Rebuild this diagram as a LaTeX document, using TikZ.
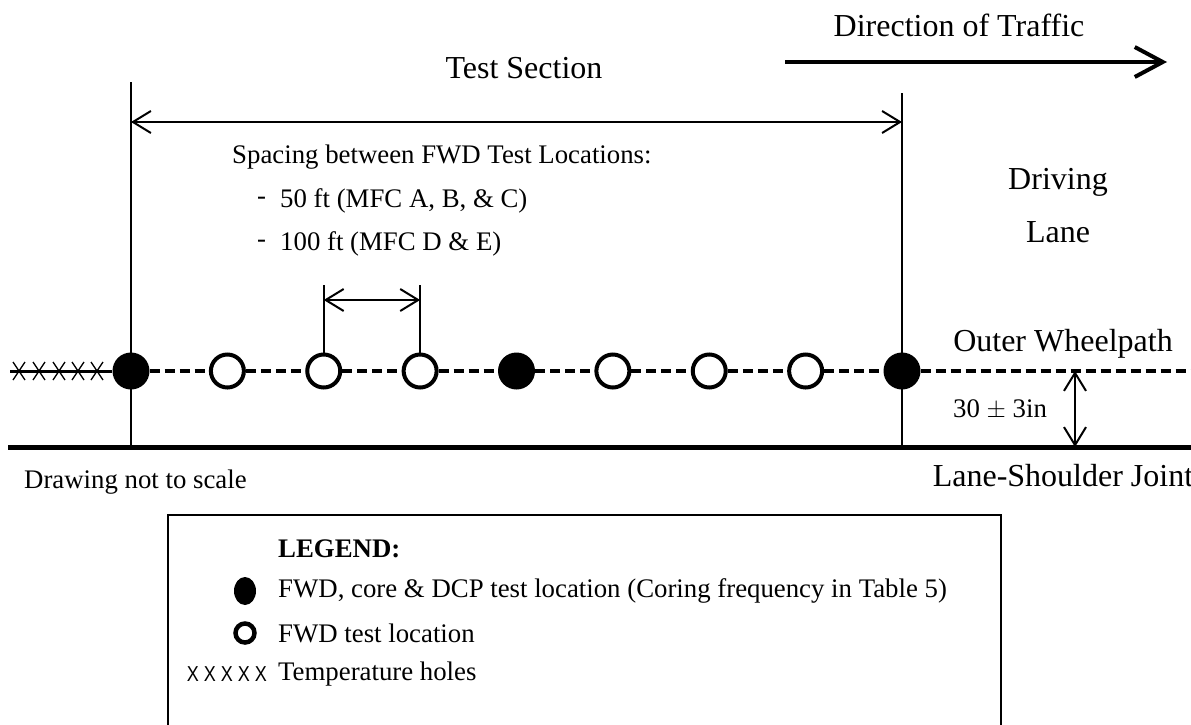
\documentclass[tikz,border=0pt]{standalone}
\usepackage{fontspec}
\setmainfont{Liberation Serif}
\newfontfamily\holefont{Liberation Sans}
\usetikzlibrary{arrows.meta,shapes.geometric}

\begin{document}
\begin{tikzpicture}[x=1pt,y=-1pt]

	\tikzset{bigtext/.style={font=\fontsize{32}{38}\selectfont,inner sep=0pt}}
	\tikzset{smalltext/.style={font=\fontsize{26.8}{32}\selectfont,inner sep=0pt}}
	\tikzset{corept/.style={circle,inner sep=0pt,minimum size=37pt,fill=black}}
	\tikzset{fwdpt/.style={draw,circle,line width=4pt,inner sep=0pt,minimum size=33pt,fill=white}}
	\tikzset{dimline/.style={line width=2pt,{Straight Barb[length=18pt,width=22pt]}-{Straight Barb[length=18pt,width=22pt]}}}
	\tikzset{wheelpath/.style={line width=3.3pt,dash pattern=on 10pt off 5pt}}

	\useasboundingbox (0,0) rectangle (1191,725);
	\clip (0,0) rectangle (1191,725);

	% direction of traffic
	\node[bigtext] (dirtxt) at (959,25) {Direction of Traffic};
	\coordinate (dirl) at (785,62); \coordinate (dirr) at (1167,62);
	\draw[line width=4pt,-{Straight Barb[length=28pt,width=30pt]}] (dirl) -- (dirr);

	% test section
	\coordinate (ltop) at (131,82); \coordinate (lbot) at (131,447);
	\coordinate (rtop) at (902,93); \coordinate (rbot) at (902,447);
	\draw[line width=2pt] (ltop) -- (lbot);
	\draw[line width=2pt] (rtop) -- (rbot);
	\node[bigtext] (tstxt) at (524,68) {Test Section};
	\coordinate (tsl) at (131,122); \coordinate (tsr) at (902,122);
	\draw[dimline] (tsl) -- (tsr);

	\node[smalltext,anchor=west] (sptxt) at (232,157) {Spacing between FWD Test Locations:};
	\node[smalltext,anchor=west] (dasha) at (257,201) {-};
	\node[smalltext,anchor=west] (spa) at (280,201) {50 ft (MFC A, B, \& C)};
	\node[smalltext,anchor=west] (dashb) at (257,244) {-};
	\node[smalltext,anchor=west] (spb) at (280,244) {100 ft (MFC D \& E)};

	\node[bigtext] (drv) at (1058,182) {Driving};
	\node[bigtext] (lane) at (1058,232) {Lane};

	% test locations
	\foreach \i in {0,4,8} {
		\node[corept] (p\i) at (131+96.375*\i,371) {};
	}
	\foreach \i in {1,2,3,5,6,7} {
		\node[fwdpt] (p\i) at (131+96.375*\i,371) {};
	}
	\foreach \i [evaluate=\i as \j using int(\i+1)] in {0,...,7} {
		\draw[wheelpath] (p\i) -- (p\j);
	}
	\coordinate (wpend) at (1191,371);
	\draw[wheelpath] (p8) -- (wpend);

	% spacing
	\coordinate (sl) at (p2 |- 0,285); \coordinate (sr) at (p3 |- 0,285);
	\draw[line width=2pt] (sl) -- (p2.north);
	\draw[line width=2pt] (sr) -- (p3.north);
	\coordinate (sal) at (p2 |- 0,300); \coordinate (sar) at (p3 |- 0,300);
	\draw[dimline] (sal) -- (sar);

	% temperature holes
	\coordinate (holes) at (10,371);
	\draw[line width=3pt] (holes) -- (p0);
	\foreach \x in {19,39,59,78,97} {
		\draw[line width=1.3pt] (\x-6,362) -- (\x+6,380) (\x-6,380) -- (\x+6,362);
	}

	% shoulder
	\coordinate (gl) at (8,447); \coordinate (gr) at (1191,447);
	\draw[line width=5pt] (gl) -- (gr);
	\node[bigtext] (owp) at (1063,344) {Outer Wheelpath};
	\coordinate (offa) at (1075,371); \coordinate (offb) at (1075,447);
	\draw[dimline] (offa) -- (offb);
	\node[smalltext] (offtxt) at (1000,410) {30 $\pm$ 3in};
	\node[bigtext] (lsj) at (1063,476) {Lane-Shoulder Joint};
	\node[smalltext,anchor=west] (nts) at (24,482) {Drawing not to scale};

	% legend
	\draw[line width=2pt] (168,760) -- (168,515) -- (1001,515) -- (1001,760);
	\node[smalltext,anchor=west,font=\fontsize{26.8}{32}\selectfont\bfseries] (leg) at (278,549) {LEGEND:};
	\node[ellipse,fill=black,minimum width=22pt,minimum height=28pt,inner sep=0pt] (lcore) at (245,591) {};
	\node[smalltext,anchor=west] (lcoretxt) at (278,591) {FWD, core \& DCP test location (Coring frequency in Table 5)};
	\node[draw,circle,line width=4.5pt,inner sep=0pt,minimum size=19pt] (lfwd) at (245,633) {};
	\node[smalltext,anchor=west] (lfwdtxt) at (278,633) {FWD test location};
	\node[anchor=east,inner sep=0pt,font=\holefont\fontsize{18}{20}\selectfont,yscale=1.2] (lhole) at (267,674) {X X X X X};
	\node[smalltext,anchor=west] (lholetxt) at (278,674) {Temperature holes};

\end{tikzpicture}
\end{document}
